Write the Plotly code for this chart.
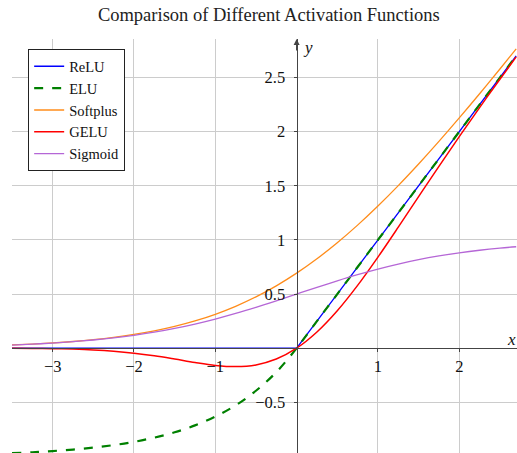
import plotly.graph_objects as go

x_vals = [-3.5, -3.25, -3.0, -2.75, -2.5, -2.25, -2.0, -1.75, -1.5, -1.25, -1.0, -0.75, -0.5, -0.25,
          0.0, 0.25, 0.5, 0.75, 1.0, 1.25, 1.5, 1.75, 2.0, 2.25, 2.5, 2.7]
relu = [0, 0, 0, 0, 0, 0, 0, 0, 0, 0, 0, 0, 0, 0,
        0.0, 0.25, 0.5, 0.75, 1.0, 1.25, 1.5, 1.75, 2.0, 2.25, 2.5, 2.7]
elu = [-0.970, -0.961, -0.950, -0.936, -0.918, -0.895, -0.865, -0.826, -0.777, -0.713, -0.632, -0.528, -0.393, -0.221,
       0.0, 0.25, 0.5, 0.75, 1.0, 1.25, 1.5, 1.75, 2.0, 2.25, 2.5, 2.7]
softplus = [0.0298, 0.0381, 0.0486, 0.0619, 0.0789, 0.1002, 0.1269, 0.1602, 0.2014, 0.2519, 0.3133, 0.3869, 0.4741, 0.5759,
            0.6931, 0.8259, 0.9741, 1.1369, 1.3133, 1.5019, 1.7014, 1.9102, 2.1269, 2.3502, 2.5789, 2.7651]
gelu = [-0.0008, -0.0019, -0.0040, -0.0082, -0.0155, -0.0275, -0.0455, -0.0701, -0.1002, -0.1321, -0.1587, -0.1700, -0.1543, -0.1003,
        0.0, 0.1497, 0.3457, 0.5800, 0.8413, 1.1179, 1.3998, 1.6799, 1.9545, 2.2225, 2.4845, 2.6906]
sigmoid = [0.0293, 0.0373, 0.0474, 0.0601, 0.0759, 0.0953, 0.1192, 0.1480, 0.1824, 0.2227, 0.2689, 0.3208, 0.3775, 0.4378,
           0.5, 0.5622, 0.6225, 0.6792, 0.7311, 0.7773, 0.8176, 0.8520, 0.8808, 0.9047, 0.9241, 0.9370]

x_ticks = [-3, -2, -1, 1, 2]
x_tick_text = ["\u22123", "\u22122", "\u22121", "1", "2"]
y_ticks = [-0.5, 0.5, 1, 1.5, 2, 2.5]
y_tick_text = ["\u22120.5", "0.5", "1", "1.5", "2", "2.5"]

XMIN, XMAX = -3.5, 2.71
YMIN, YMAX = -0.968, 2.856

SERIF = "Liberation Serif, DejaVu Serif, serif"

fig = go.Figure()
fig.add_trace(go.Scatter(x=x_vals, y=relu, mode="lines", name="ReLU",
                         line=dict(color="#0000ff", width=1.3)))
fig.add_trace(go.Scatter(x=x_vals, y=elu, mode="lines", name="ELU", line_shape="spline",
                         line=dict(color="#008000", width=2.2, dash="dash")))
fig.add_trace(go.Scatter(x=x_vals, y=softplus, mode="lines", name="Softplus", line_shape="spline",
                         line=dict(color="#ff8c1a", width=1.3)))
fig.add_trace(go.Scatter(x=x_vals, y=gelu, mode="lines", name="GELU", line_shape="spline",
                         line=dict(color="#ff0000", width=1.5)))
fig.add_trace(go.Scatter(x=x_vals, y=sigmoid, mode="lines", name="Sigmoid", line_shape="spline",
                         line=dict(color="#b566d6", width=1.3)))

xpos = (0 - YMIN) / (YMAX - YMIN)
ypos = (0 - XMIN) / (XMAX - XMIN)

fig.update_layout(
    width=517, height=453,
    margin=dict(l=12, r=0, t=39, b=0),
    paper_bgcolor="white", plot_bgcolor="white",
    font=dict(family=SERIF, size=14, color="#111"),
    title=dict(text="Comparison of Different Activation Functions", x=0.52, xanchor="center",
               y=0.969, yanchor="middle", font=dict(family=SERIF, size=18.5, color="#222")),
    showlegend=True,
    legend=dict(x=0.032, y=0.975, xanchor="left", yanchor="top",
                bordercolor="#222", borderwidth=1, bgcolor="white",
                font=dict(family=SERIF, size=14.5, color="#111"),
                tracegroupgap=0, itemwidth=30),
    xaxis=dict(range=[XMIN, XMAX], anchor="free", position=xpos,
               tickvals=x_ticks, ticktext=x_tick_text, ticks="outside", ticklen=3,
               tickcolor="#444", showline=True, linecolor="#444", linewidth=1.2,
               showgrid=True, gridcolor="#cccccc", gridwidth=1, zeroline=False,
               ticklabelstandoff=0,
               tickfont=dict(family=SERIF, size=16.5, color="#111")),
    yaxis=dict(range=[YMIN, YMAX], anchor="free", position=ypos,
               tickvals=y_ticks, ticktext=y_tick_text, ticks="outside", ticklen=3,
               tickcolor="#444", showline=True, linecolor="#444", linewidth=1.2,
               showgrid=True, gridcolor="#cccccc", gridwidth=1, zeroline=False,
               ticklabelstandoff=5,
               tickfont=dict(family=SERIF, size=16.5, color="#111")),
)

fig.add_annotation(x=0, y=YMAX, ax=0, ay=YMAX - 0.12, xref="x", yref="y", axref="x", ayref="y",
                   showarrow=True, arrowhead=2, arrowsize=1, arrowwidth=1.2, arrowcolor="#444", text="")
fig.add_annotation(x=0.14, y=2.775, xref="x", yref="y", text="<i>y</i>", showarrow=False,
                   font=dict(family=SERIF, size=17, color="#111"))
fig.add_annotation(x=2.645, y=0.085, xref="x", yref="y", text="<i>x</i>", showarrow=False,
                   font=dict(family=SERIF, size=17, color="#111"))

fig.write_html("out.html")
